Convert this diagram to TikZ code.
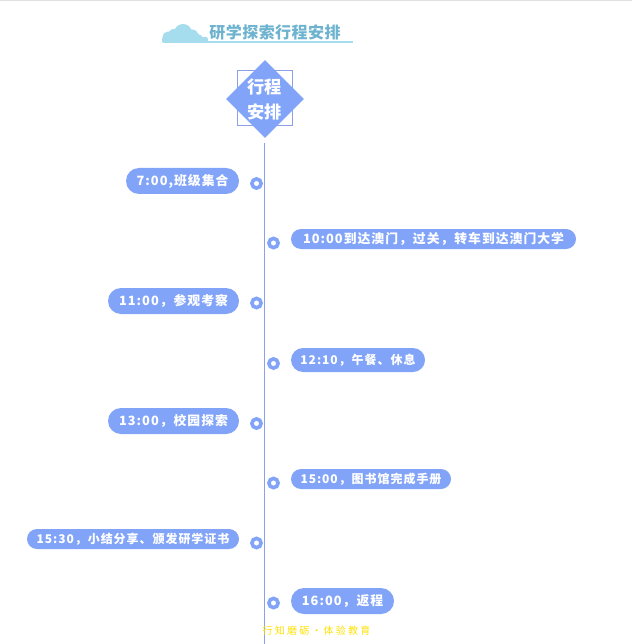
\documentclass[tikz,border=0pt]{standalone}
\usepackage{fontspec}
\usetikzlibrary{shapes.geometric}
\newfontfamily\cjk[LetterSpace=8]{Noto Sans CJK SC}
\newfontfamily\cjktitle[LetterSpace=3]{Noto Sans CJK SC}
\newfontfamily\cjkfoot[LetterSpace=22]{Noto Sans CJK SC}
\definecolor{pillblue}{HTML}{82A4F8}
\definecolor{spine}{HTML}{8C9FEA}
\definecolor{titleblue}{HTML}{6DB3CF}
\definecolor{cloudblue}{HTML}{A5DCEE}
\tikzset{
  x=1pt,y=-1pt,
  pill/.style={fill=pillblue,text=white,draw=none,inner sep=0pt,font=\cjk\bfseries\fontsize{12.8}{14}\selectfont},
  smallpill/.style={pill,font=\cjk\bfseries\fontsize{12}{14}\selectfont},
  dot/.style={circle,draw=pillblue,fill=white,line width=3.6pt,minimum size=9.2pt,inner sep=0pt},
  spineline/.style={draw=spine,line width=1pt},
}
\newcommand{\pillnode}[7]{% style, name, x1, y1, x2, y2, text
  \pgfmathsetmacro{\pw}{#5-#3}\pgfmathsetmacro{\ph}{#6-#4}
  \pgfmathsetmacro{\pr}{\ph/2-0.01}
  \node[#1,rectangle,rounded corners=\pr pt,minimum width=\pw pt,minimum height=\ph pt] (#2) at ({(#3+#5)/2},{(#4+#6)/2}) {#7};
}
\begin{document}
\begin{tikzpicture}
\useasboundingbox (0,0) rectangle (632,644);
\fill[white] (0,0) rectangle (632,644);
\fill[black!12] (0,0) rectangle (632,1.2);
% title cloud
\fill[cloudblue] (178,41) rectangle (353,43);
\fill[cloudblue] (168,37) circle (5.5);
\fill[cloudblue] (174,35) circle (6);
\fill[cloudblue] (183,33) circle (9);
\fill[cloudblue] (192,36) circle (6.5);
\fill[cloudblue] (198,38.5) circle (4.5);
\fill[cloudblue,rounded corners=2pt] (162,37) rectangle (208,43);
\node[text=titleblue,inner sep=0pt,font=\cjktitle\bfseries\fontsize{16}{18}\selectfont] (title) at (275,32) {研学探索行程安排};
% spine
\coordinate (spinetop) at (264.5,143);
\coordinate (spinebot) at (264.5,644);
\draw[spineline] (spinetop) -- (spinebot);
% header
\draw[draw=spine,line width=0.7pt] (237.3,70.3) rectangle (292.7,125.7);
\node[diamond,aspect=1,fill=pillblue,inner sep=0pt,minimum size=78pt] (head) at (265,99) {};
\node[text=white,inner sep=0pt,align=center,font=\cjktitle\bfseries\fontsize{17.2}{25}\selectfont] (headtext) at (264.5,99.5) {行程\\安排};
% pills
\pillnode{pill}{p1}{126}{168}{239}{194}{7:00,班级集合}
\pillnode{pill}{p2}{291}{229}{576}{249}{10:00到达澳门，过关，转车到达澳门大学}
\pillnode{pill}{p3}{108}{288}{239}{314}{11:00，参观考察}
\pillnode{smallpill}{p4}{291}{348}{425}{372}{12:10，午餐、休息}
\pillnode{pill}{p5}{108}{408}{239}{434}{13:00，校园探索}
\pillnode{smallpill}{p6}{291}{469}{451}{489}{15:00，图书馆完成手册}
\pillnode{smallpill}{p7}{27}{529}{239}{549}{15:30，小结分享、颁发研学证书}
\pillnode{pill}{p8}{291}{588}{394}{614}{16:00，返程}
% dots
\node[dot] (d1) at (256.5,183.5) {};
\node[dot] (d2) at (273.5,243) {};
\node[dot] (d3) at (256.5,303) {};
\node[dot] (d4) at (273.5,363.5) {};
\node[dot] (d5) at (256.5,423.5) {};
\node[dot] (d6) at (273.5,483) {};
\node[dot] (d7) at (256.5,543) {};
\node[dot] (d8) at (273.5,603) {};
% footer
\node[text=yellow!85!orange,inner sep=0pt,font=\cjkfoot\fontsize{10}{11}\selectfont] (foot) at (316.5,631) {行知磨砺·体验教育};
\end{tikzpicture}
\end{document}
